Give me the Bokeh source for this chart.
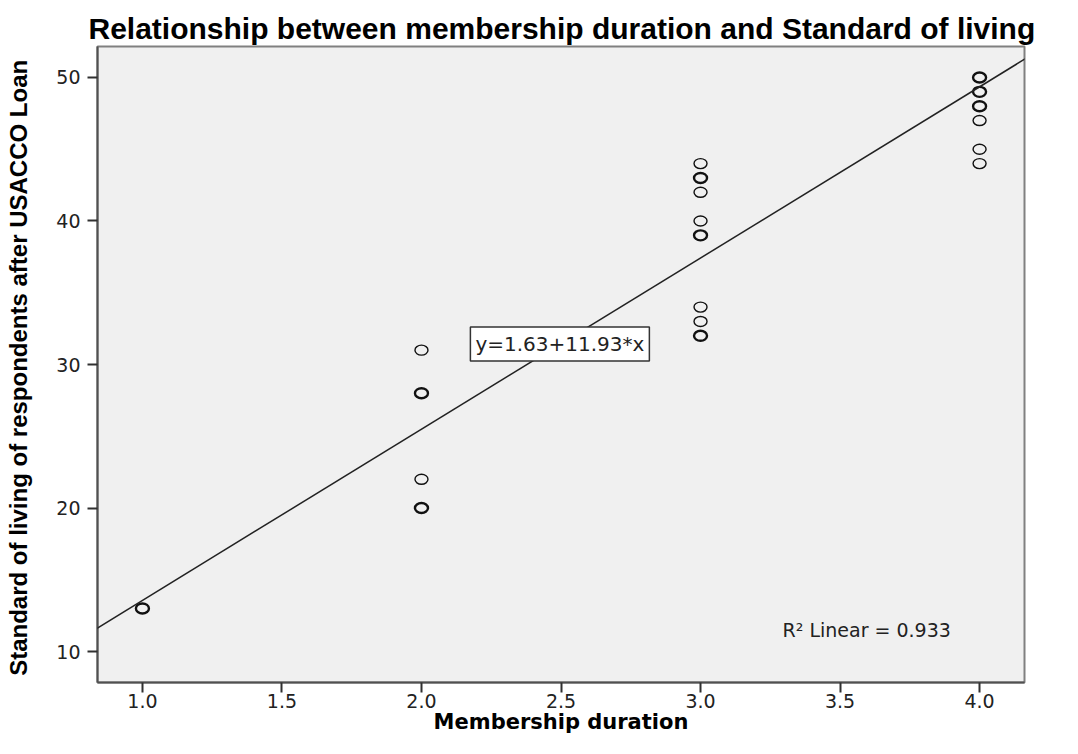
from collections import Counter
from bokeh.plotting import figure
from bokeh.models import ColumnDataSource, Slope, Label, FixedTicker, NumeralTickFormatter, Range1d
from bokeh.embed import file_html
from bokeh.resources import INLINE

# ---- data ----
membership = [1, 1,
              2, 2, 2, 2, 2, 2,
              3, 3, 3, 3, 3, 3, 3, 3, 3, 3, 3,
              4, 4, 4, 4, 4, 4, 4, 4, 4, 4]
living = [13, 13,
          31, 28, 28, 22, 20, 20,
          44, 43, 43, 42, 40, 39, 39, 34, 33, 32, 32,
          50, 50, 50, 49, 49, 48, 48, 47, 45, 44]
fit_intercept = 1.63
fit_slope = 11.93
r_squared = 0.933
x_ticks = [1.0, 1.5, 2.0, 2.5, 3.0, 3.5, 4.0]
y_ticks = [10, 20, 30, 40, 50]

counts = Counter(zip(membership, living))
ux = [k[0] for k in counts]
uy = [k[1] for k in counts]
lw = [2.4 if c > 1 else 1.4 for c in counts.values()]
src = ColumnDataSource(dict(x=ux, y=uy, lw=lw))

p = figure(width=1062, height=738, output_backend="svg", toolbar_location=None,
           x_range=Range1d(0.839, 4.161), y_range=Range1d(7.84, 52.16),
           min_border_left=97, min_border_right=38, min_border_top=46, min_border_bottom=56)

p.background_fill_color = "#f0f0f0"
p.border_fill_color = "white"
p.outline_line_color = "#808080"
p.outline_line_width = 2
p.grid.visible = False

p.title.text = "Relationship between membership duration and Standard of living"
p.title.text_font = "Liberation Sans"
p.title.text_font_style = "bold"
p.title.text_font_size = "30px"
p.title.align = "left"
p.title.offset = -9
p.title.standoff = 4
p.title.text_color = "black"

for ax in (p.xaxis[0], p.yaxis[0]):
    ax.axis_line_color = "#505050"
    ax.axis_line_width = 2
    ax.major_tick_line_color = "#303030"
    ax.major_tick_line_width = 2
    ax.major_tick_out = 10
    ax.major_tick_in = 0
    ax.minor_tick_out = 0
    ax.minor_tick_in = 0
    ax.major_label_text_font = "DejaVu Sans"
    ax.major_label_text_font_size = "19px"
    ax.major_label_text_color = "#222222"
    ax.axis_label_text_color = "black"
    ax.axis_label_text_font_style = "bold"

p.xaxis.ticker = FixedTicker(ticks=x_ticks)
p.xaxis.formatter = NumeralTickFormatter(format="0.0")
p.xaxis.axis_label = "Membership duration"
p.xaxis.axis_label_text_font = "DejaVu Sans"
p.xaxis.axis_label_text_font_size = "21px"
p.xaxis.major_label_standoff = 1
p.xaxis.axis_label_standoff = -1

p.yaxis.ticker = FixedTicker(ticks=y_ticks)
p.yaxis.axis_label = "Standard of living  of respondents after USACCO Loan"
p.yaxis.axis_label_text_font = "Liberation Sans"
p.yaxis.axis_label_text_font_size = "24px"
p.yaxis.major_label_standoff = 7
p.yaxis.axis_label_standoff = 21

p.add_layout(Slope(gradient=fit_slope, y_intercept=fit_intercept,
                   line_color="#222222", line_width=1.5))

p.ellipse(x="x", y="y", width=13, height=10, width_units="screen", height_units="screen",
          source=src, fill_color=None, line_color="#111111", line_width="lw")

eq = Label(x=2.496, y=31.43, text=f"y={fit_intercept:.2f}+{fit_slope:.2f}*x",
           text_align="center", text_baseline="middle",
           text_font="DejaVu Sans", text_font_size="20px", text_color="#222222",
           background_fill_color="white", border_line_color="#333333", border_line_width=1.5,
           padding=5)
p.add_layout(eq)

r2 = Label(x=3.294, y=11.53, text=f"R\u00b2 Linear = {r_squared:.3f}",
           text_align="left", text_baseline="middle",
           text_font="DejaVu Sans", text_font_size="19px", text_color="#222222")
p.add_layout(r2)

open("out.html", "w").write(file_html(p, INLINE))
